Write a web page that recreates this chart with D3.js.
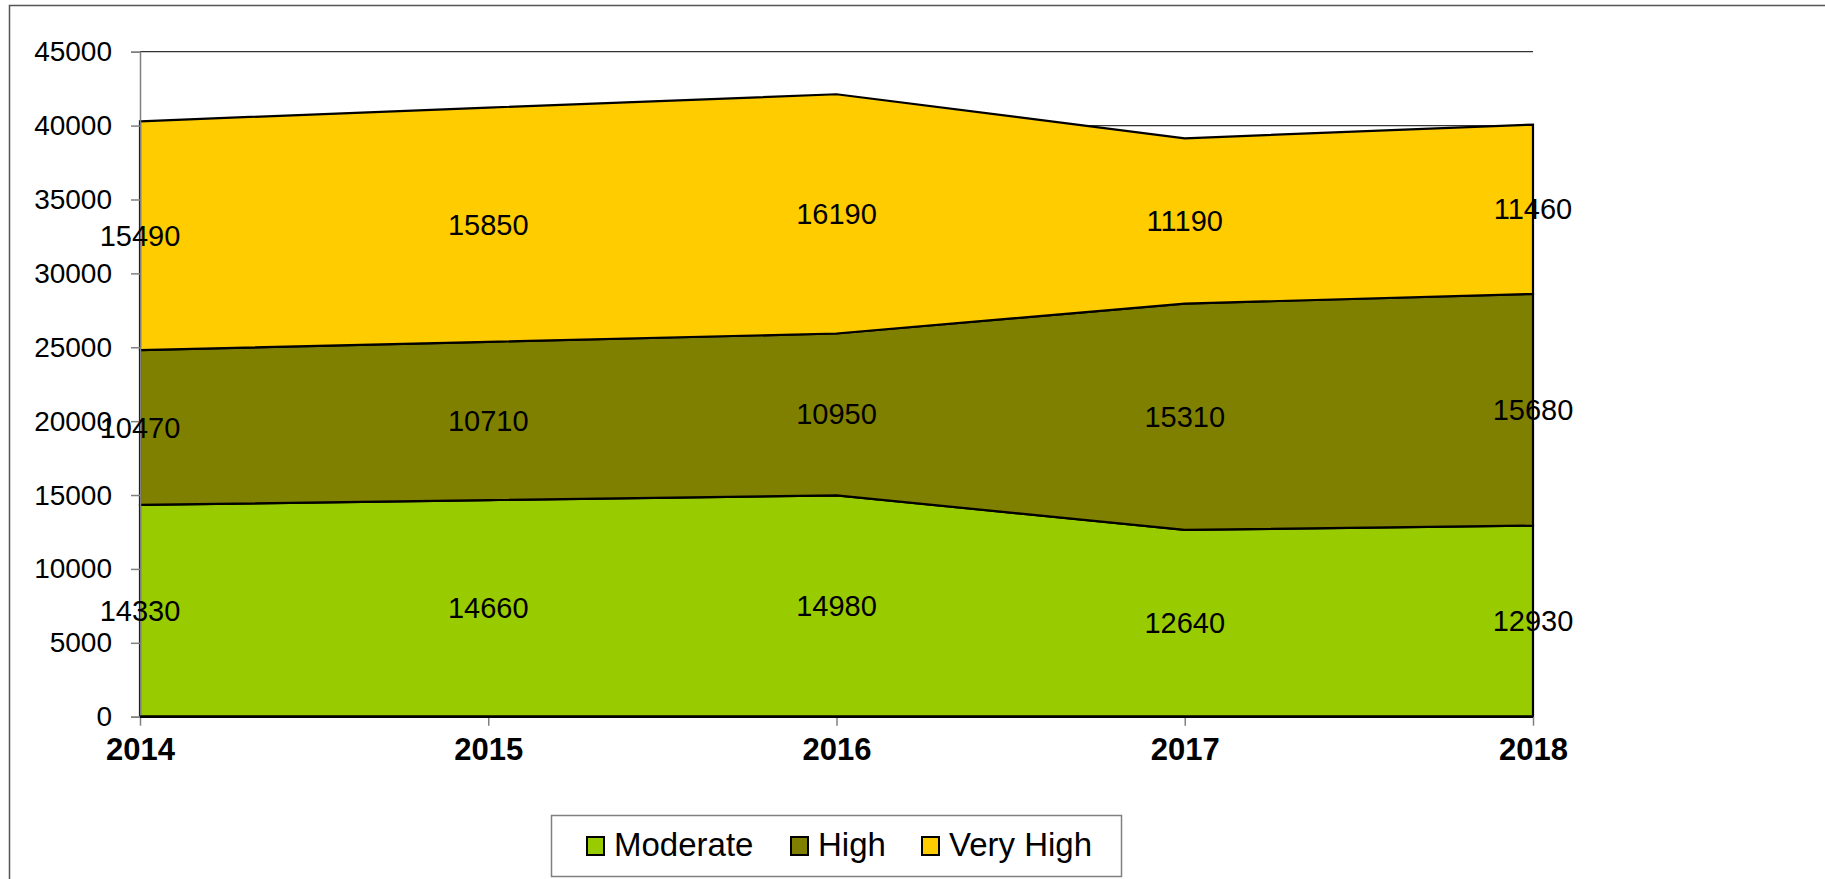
<!DOCTYPE html>
<html>
<head>
<meta charset="utf-8">
<script src="https://cdn.jsdelivr.net/npm/d3@7"></script>
<style>
  body { margin: 0; background: #fff; }
  svg { display: block; font-family: "Liberation Sans", Arial, sans-serif; }
</style>
</head>
<body>
<svg width="1825" height="879"></svg>
<script>
// Chart data
const years = ["2014", "2015", "2016", "2017", "2018"];
const moderate = [14330, 14660, 14980, 12640, 12930];
const high = [10470, 10710, 10950, 15310, 15680];
const veryHigh = [15490, 15850, 16190, 11190, 11460];
const seriesNames = ["Moderate", "High", "Very High"];
const seriesColors = ["#99cc00", "#808000", "#ffcc00"];
const yTicks = [0, 5000, 10000, 15000, 20000, 25000, 30000, 35000, 40000, 45000];

const rows = years.map((year, i) => ({
  year,
  Moderate: moderate[i],
  High: high[i],
  "Very High": veryHigh[i],
}));

const svg = d3.select("svg");

// outer chart frame (runs off the right and bottom of the window)
svg.append("rect")
  .attr("x", 9.5).attr("y", 5.5)
  .attr("width", 2000).attr("height", 1000)
  .attr("fill", "none")
  .attr("stroke", "#555")
  .attr("stroke-width", 1.5);

const plot = { left: 140, right: 1533, top: 51.7, bottom: 716.7 };

const x = d3.scalePoint().domain(years).range([plot.left, plot.right]).padding(0);
const y = d3.scaleLinear().domain([0, 45000]).range([plot.bottom, plot.top]);

// gridlines, behind the areas
svg.append("g")
  .selectAll("line")
  .data(yTicks.filter((d) => d > 0))
  .join("line")
  .attr("x1", plot.left).attr("x2", plot.right)
  .attr("y1", (d) => y(d)).attr("y2", (d) => y(d))
  .attr("stroke", "#333")
  .attr("stroke-width", 1.2);

// stacked areas
const stack = d3.stack().keys(seriesNames);
const layers = stack(rows);

const area = d3.area()
  .x((d) => x(d.data.year))
  .y0((d) => y(d[0]))
  .y1((d) => y(d[1]));

svg.append("g")
  .selectAll("path")
  .data(layers)
  .join("path")
  .attr("d", area)
  .attr("fill", (d, i) => seriesColors[i])
  .attr("stroke", "#000")
  .attr("stroke-width", 2.2)
  .attr("stroke-linejoin", "miter");

// y axis
const yAxis = svg.append("g")
  .attr("transform", `translate(${plot.left},0)`)
  .call(d3.axisLeft(y).tickValues(yTicks).tickSize(9).tickPadding(19).tickFormat(d3.format("d")));
yAxis.select(".domain").attr("stroke", "#808080").attr("stroke-width", 1.5);
yAxis.selectAll(".tick line").attr("stroke", "#808080").attr("stroke-width", 1.5);
yAxis.selectAll(".tick text")
  .attr("font-size", 28)
  .attr("fill", "#000")
  .attr("font-family", "Liberation Sans, Arial, sans-serif");

// x axis
const xAxis = svg.append("g")
  .attr("transform", `translate(0,${plot.bottom})`)
  .call(d3.axisBottom(x).tickSize(9).tickPadding(12));
xAxis.select(".domain").remove();
xAxis.selectAll(".tick line").attr("stroke", "#808080").attr("stroke-width", 1.5);
xAxis.selectAll(".tick text")
  .attr("font-size", 31)
  .attr("font-weight", "bold")
  .attr("fill", "#000")
  .attr("font-family", "Liberation Sans, Arial, sans-serif");

// redraw the zero line on top of the ticks
svg.append("line")
  .attr("x1", plot.left).attr("x2", plot.right)
  .attr("y1", y(0)).attr("y2", y(0))
  .attr("stroke", "#000").attr("stroke-width", 2.5);

// data labels in the middle of each band
layers.forEach((layer) => {
  svg.append("g")
    .selectAll("text")
    .data(layer)
    .join("text")
    .attr("x", (d) => x(d.data.year))
    .attr("y", (d) => y((d[0] + d[1]) / 2))
    .attr("text-anchor", "middle")
    .attr("dominant-baseline", "central")
    .attr("font-size", 29)
    .attr("fill", "#000")
    .text((d) => d[1] - d[0]);
});

// legend
const legend = svg.append("g");
legend.append("rect")
  .attr("x", 551.5).attr("y", 815.5)
  .attr("width", 570).attr("height", 61)
  .attr("fill", "#fff")
  .attr("stroke", "#808080")
  .attr("stroke-width", 1.5);

const legendX = [587, 791, 922];
const item = legend.selectAll("g.item")
  .data(seriesNames)
  .join("g")
  .attr("class", "item")
  .attr("transform", (d, i) => `translate(${legendX[i]},837)`);
item.append("rect")
  .attr("width", 17).attr("height", 18)
  .attr("fill", (d, i) => seriesColors[i])
  .attr("stroke", "#000")
  .attr("stroke-width", 2);
item.append("text")
  .attr("x", 27)
  .attr("y", 19)
  .attr("font-size", 33)
  .attr("fill", "#000")
  .text((d) => d);
</script>
</body>
</html>
